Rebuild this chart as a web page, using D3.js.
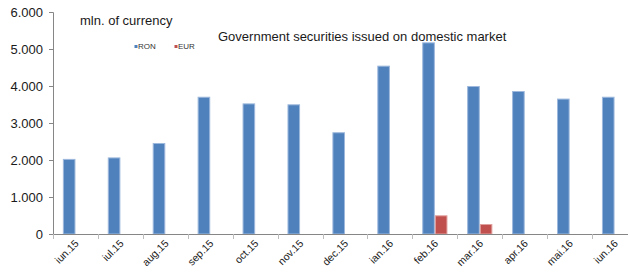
<!DOCTYPE html>
<html>
<head>
<meta charset="utf-8">
<script src="https://cdn.jsdelivr.net/npm/d3@7"></script>
<style>
  body { margin: 0; background: #fff; }
  svg { display: block; font-family: "Liberation Sans", Arial, sans-serif; }
</style>
</head>
<body>
<div id="chart"></div>
<script>
var months = ["iun.15", "iul.15", "aug.15", "sep.15", "oct.15", "nov.15", "dec.15",
  "ian.16", "feb.16", "mar.16", "apr.16", "mai.16", "iun.16"];
var ron = [2030, 2070, 2460, 3710, 3530, 3505, 2750, 4550, 5180, 4000, 3865, 3660, 3710];
var eur = [0, 0, 0, 0, 0, 0, 0, 0, 505, 270, 0, 0, 0];
var seriesNames = ["RON", "EUR"];
var yTicks = [0, 1000, 2000, 3000, 4000, 5000, 6000];

var width = 628, height = 277;
var colors = { RON: "#4F81BD", EUR: "#C0504D" };
var strokes = { RON: "#9db8dc", EUR: "#e0a09e" };

var svg = d3.select("#chart").append("svg")
  .attr("width", width)
  .attr("height", height);

var x0 = 53, x1 = 637, yTop = 12, yBot = 234;

var x = d3.scaleBand().domain(months).range([x0, x1]);
// the pair of bars takes ~25px in the middle of each 45px band
var groupW = 25.2;
var xs = d3.scaleBand().domain(seriesNames)
  .range([(x.bandwidth() - groupW) / 2, (x.bandwidth() + groupW) / 2]);
var y = d3.scaleLinear().domain([0, 6000]).range([yBot, yTop]);

var rows = months.map(function(m, i) {
  return { month: m, RON: ron[i], EUR: eur[i] };
});

var groups = svg.append("g").selectAll("g")
  .data(rows)
  .enter().append("g")
  .attr("transform", function(d) { return "translate(" + x(d.month) + ",0)"; });

groups.selectAll("rect")
  .data(function(d) {
    return seriesNames.map(function(s) { return { key: s, value: d[s] }; })
      .filter(function(v) { return v.value > 0; });
  })
  .enter().append("rect")
  .attr("x", function(d) { return xs(d.key) + 0.5; })
  .attr("y", function(d) { return y(d.value) + 0.5; })
  .attr("width", xs.bandwidth() - 1)
  .attr("height", function(d) { return yBot - y(d.value) - 0.5; })
  .attr("fill", function(d) { return colors[d.key]; })
  .attr("stroke", function(d) { return strokes[d.key]; })
  .attr("stroke-width", 1);

// y axis
var yAxis = svg.append("g")
  .attr("transform", "translate(" + x0 + ",0)")
  .call(d3.axisLeft(y).tickValues(yTicks).tickSize(4).tickPadding(6)
    .tickFormat(function(d) { return d === 0 ? "0" : d3.format(",")(d).replace(/,/g, "."); }));
yAxis.select(".domain").attr("stroke", "#868686");
yAxis.selectAll(".tick line").attr("stroke", "#868686");
yAxis.selectAll("text")
  .attr("font-size", 13)
  .attr("fill", "#1a1a1a")
  .attr("font-family", "Liberation Sans, Arial, sans-serif");

// x axis line with boundary ticks
var xg = svg.append("g");
xg.append("line")
  .attr("x1", x0).attr("x2", width)
  .attr("y1", yBot + 0.5).attr("y2", yBot + 0.5)
  .attr("stroke", "#868686");
xg.selectAll(".bt")
  .data(months)
  .enter().append("line")
  .attr("x1", function(d) { return Math.round(x(d)) + 0.5; })
  .attr("x2", function(d) { return Math.round(x(d)) + 0.5; })
  .attr("y1", yBot).attr("y2", yBot + 5)
  .attr("stroke", "#bcbcbc");

// rotated month labels (-45deg)
xg.selectAll(".lbl")
  .data(months)
  .enter().append("text")
  .attr("class", "lbl")
  .style("transform", function(d) {
    var tx = x(d) + x.bandwidth() / 2 + 4, ty = yBot + 10;
    return "translate(" + tx + "px," + ty + "px) rotate(-45deg)";
  })
  .attr("text-anchor", "end")
  .attr("font-size", 10.5)
  .attr("fill", "#1a1a1a")
  .text(function(d) { return d; });

// titles
svg.append("text")
  .attr("x", 80).attr("y", 25)
  .attr("font-size", 13)
  .attr("fill", "#1a1a1a")
  .text("mln. of currency");

svg.append("text")
  .attr("x", 218).attr("y", 41)
  .attr("font-size", 13)
  .attr("fill", "#1a1a1a")
  .text("Government securities issued on domestic market");

// legend
var legendX = [134.5, 174.5];
var legend = svg.append("g").selectAll("g")
  .data(seriesNames)
  .enter().append("g")
  .attr("transform", function(d, i) { return "translate(" + legendX[i] + ",45)"; });
legend.append("rect")
  .attr("width", 3).attr("height", 3)
  .attr("fill", function(d) { return colors[d]; });
legend.append("text")
  .attr("x", 3.5).attr("y", 4)
  .attr("font-size", 8)
  .attr("fill", "#333")
  .text(function(d) { return d; });
</script>
</body>
</html>
